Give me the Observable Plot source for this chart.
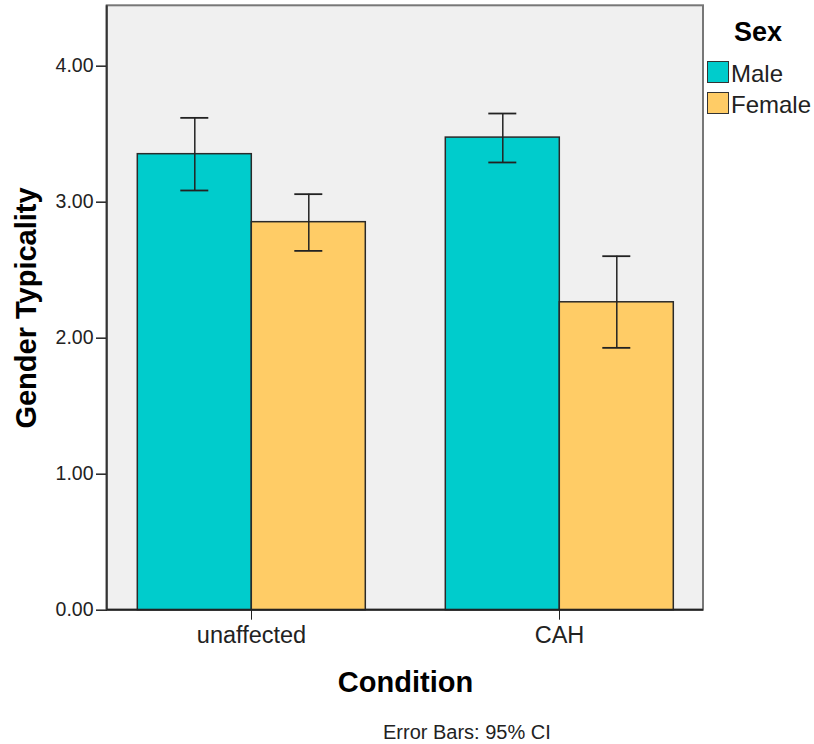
<!DOCTYPE html>
<html>
<head>
<meta charset="utf-8">
<script src="https://cdn.jsdelivr.net/npm/d3@7"></script>
<script src="https://cdn.jsdelivr.net/npm/@observablehq/plot@0.6"></script>
<style>
  html, body { margin: 0; padding: 0; background: #fff; }
  #wrap { position: relative; width: 814px; height: 744px; font-family: "Liberation Sans", Arial, sans-serif; }
  #wrap svg { position: absolute; left: 0; top: 0; }
  g[aria-label="y-axis label"], g[aria-label="fx-axis label"] { font-size: 29px !important; font-weight: bold; fill: #000; }
  #legend { position: absolute; left: 706px; top: 0; width: 108px; }
  #legend .title { position: absolute; left: 0; width: 104px; top: 17px; text-align: center; font-weight: bold; font-size: 27px; line-height: 30px; color: #000; }
  #legend .item { position: absolute; left: 0; height: 24px; }
  #legend .sw { position: absolute; left: 1px; top: 0; width: 20px; height: 20px; border: 1.5px solid #333; }
  #legend .lab { position: absolute; left: 25px; top: 0px; font-size: 24px; line-height: 26px; color: #222; white-space: nowrap; }
  #caption { position: absolute; left: 383px; top: 721px; font-size: 20px; line-height: 22px; color: #222; white-space: nowrap; }
</style>
</head>
<body>
<div id="wrap">
  <div id="legend"></div>
  <div id="caption">Error Bars: 95% CI</div>
</div>
<script>
// ---- data ----
const conditions = ["unaffected", "CAH"];
const sexes = ["Male", "Female"];
const sexColors = ["#00CCCC", "#FFCC66"];
const maleMean = [3.353, 3.475];
const maleLow = [3.086, 3.292];
const maleHigh = [3.620, 3.652];
const femaleMean = [2.853, 2.264];
const femaleLow = [2.642, 1.929];
const femaleHigh = [3.059, 2.603];
const yTicks = [0, 1, 2, 3, 4];

const rows = [];
conditions.forEach((c, i) => {
  rows.push({condition: c, sex: "Male", mean: maleMean[i], low: maleLow[i], high: maleHigh[i]});
  rows.push({condition: c, sex: "Female", mean: femaleMean[i], low: femaleLow[i], high: femaleHigh[i]});
});

const W = 814, H = 744;
const mL = 106.7, mR = 111, mT = 5.3, mB = 134.3;

const chart = Plot.plot({
  width: W, height: H,
  marginLeft: mL, marginRight: mR, marginTop: mT, marginBottom: mB,
  style: {fontFamily: "'Liberation Sans', Arial, sans-serif", background: "transparent", color: "#222"},
  fx: {domain: conditions, paddingInner: 0.0658, paddingOuter: 0, label: null},
  x: {domain: sexes, padding: 0, insetLeft: 30, insetRight: 30, axis: null},
  y: {domain: [0, 4.444], axis: null},
  color: {domain: sexes, range: sexColors},
  marks: [
    Plot.barY(rows, {fx: "condition", x: "sex", y: "mean", fill: "sex", stroke: "#2a2a2a", strokeWidth: 1.5}),
    Plot.ruleX(rows, {fx: "condition", x: "sex", y1: "low", y2: "high", stroke: "#222", strokeWidth: 1.5}),
    Plot.tickY(rows, {fx: "condition", x: "sex", y: "low", insetLeft: 43, insetRight: 43, stroke: "#222", strokeWidth: 1.8}),
    Plot.tickY(rows, {fx: "condition", x: "sex", y: "high", insetLeft: 43, insetRight: 43, stroke: "#222", strokeWidth: 1.8}),
    Plot.axisY({ticks: yTicks, tickFormat: d3.format(".2f"), tickSize: 11, tickPadding: 3, fontSize: 19.5,
      stroke: "#222", strokeWidth: 1.5,
      label: "Gender Typicality", labelAnchor: "center", labelOffset: 92, labelArrow: "none"}),
    Plot.axisFx({anchor: "bottom", tickSize: 10, tickPadding: 6, fontSize: 23.5,
      label: "Condition", labelAnchor: "center", labelOffset: 82, labelArrow: "none"})
  ]
});

const svg = d3.select(chart);
// plot-area background and frame
svg.insert("rect", ":first-child")
  .attr("x", mL).attr("y", mT).attr("width", W - mL - mR).attr("height", H - mT - mB)
  .attr("fill", "#F0F0F0").attr("stroke", "#777").attr("stroke-width", 2);
svg.append("line").attr("x1", mL).attr("x2", mL).attr("y1", mT).attr("y2", H - mB)
  .attr("stroke", "#333").attr("stroke-width", 2);
svg.append("line").attr("x1", mL).attr("x2", W - mR).attr("y1", H - mB).attr("y2", H - mB)
  .attr("stroke", "#222").attr("stroke-width", 2);

document.getElementById("wrap").appendChild(chart);

// legend
const legend = d3.select("#legend");
legend.append("div").attr("class", "title").text("Sex");
sexes.forEach((s, i) => {
  const item = legend.append("div").attr("class", "item").style("top", (61 + i * 30.5) + "px");
  item.append("div").attr("class", "sw").style("background", sexColors[i]);
  item.append("div").attr("class", "lab").text(s);
});
</script>
</body>
</html>
